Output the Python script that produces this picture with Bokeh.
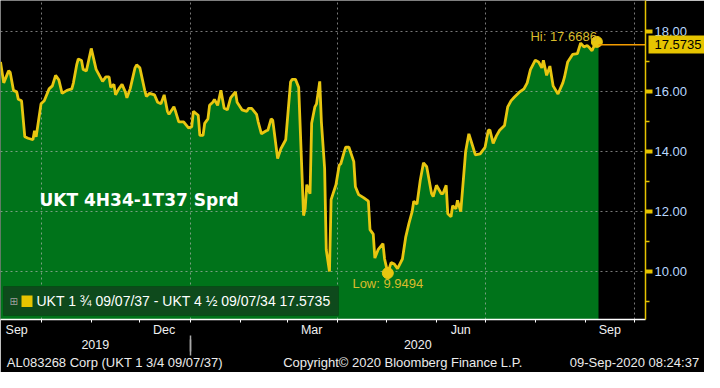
import numpy as np
import pandas as pd
from bokeh.plotting import figure
from bokeh.models import (Range1d, FixedTicker, LinearAxis, NumeralTickFormatter, Label,
                          BoxAnnotation, ColumnDataSource)
from bokeh.embed import file_html
from bokeh.resources import INLINE

# ---------------- data ----------------
dates = [
    "2019-09-06", "2019-09-08", "2019-09-11", "2019-09-12", "2019-09-14", "2019-09-16",
    "2019-09-17", "2019-09-19", "2019-09-21", "2019-09-23", "2019-09-26", "2019-09-27",
    "2019-09-28", "2019-10-01", "2019-10-03", "2019-10-06", "2019-10-08", "2019-10-10",
    "2019-10-12", "2019-10-14", "2019-10-17", "2019-10-20", "2019-10-21", "2019-10-23",
    "2019-10-24", "2019-10-26", "2019-10-27", "2019-10-29", "2019-11-01", "2019-11-04",
    "2019-11-05", "2019-11-08", "2019-11-10", "2019-11-12", "2019-11-13", "2019-11-15",
    "2019-11-16", "2019-11-18", "2019-11-20", "2019-11-22", "2019-11-23", "2019-11-25",
    "2019-11-28", "2019-11-29", "2019-12-01", "2019-12-04", "2019-12-05", "2019-12-07",
    "2019-12-10", "2019-12-12", "2019-12-14", "2019-12-16", "2019-12-18", "2019-12-19",
    "2019-12-22", "2019-12-23", "2019-12-25", "2019-12-28", "2019-12-31", "2020-01-02",
    "2020-01-03", "2020-01-06", "2020-01-07", "2020-01-09", "2020-01-10", "2020-01-12",
    "2020-01-13", "2020-01-15", "2020-01-16", "2020-01-18", "2020-01-20", "2020-01-22",
    "2020-01-24", "2020-01-26", "2020-01-29", "2020-01-30", "2020-02-02", "2020-02-05",
    "2020-02-06", "2020-02-08", "2020-02-11", "2020-02-12", "2020-02-14", "2020-02-17",
    "2020-02-18", "2020-02-20", "2020-02-21", "2020-02-24", "2020-02-26", "2020-02-29",
    "2020-03-03", "2020-03-04", "2020-03-06", "2020-03-08", "2020-03-11", "2020-03-12",
    "2020-03-13", "2020-03-15", "2020-03-16", "2020-03-18", "2020-03-19", "2020-03-21",
    "2020-03-22", "2020-03-24", "2020-03-25", "2020-03-27", "2020-03-28", "2020-03-31",
    "2020-04-02", "2020-04-03", "2020-04-05", "2020-04-06", "2020-04-08", "2020-04-11",
    "2020-04-12", "2020-04-14", "2020-04-17", "2020-04-20", "2020-04-21", "2020-04-23",
    "2020-04-24", "2020-04-26", "2020-04-29", "2020-04-30", "2020-05-02", "2020-05-04",
    "2020-05-06", "2020-05-08", "2020-05-11", "2020-05-13", "2020-05-15", "2020-05-17",
    "2020-05-18", "2020-05-20", "2020-05-22", "2020-05-24", "2020-05-26", "2020-05-29",
    "2020-05-30", "2020-06-01", "2020-06-04", "2020-06-05", "2020-06-07", "2020-06-08",
    "2020-06-10", "2020-06-11", "2020-06-13", "2020-06-14", "2020-06-16", "2020-06-19",
    "2020-06-21", "2020-06-23", "2020-06-25", "2020-06-28", "2020-07-01", "2020-07-03",
    "2020-07-04", "2020-07-06", "2020-07-08", "2020-07-10", "2020-07-13", "2020-07-15",
    "2020-07-17", "2020-07-19", "2020-07-22", "2020-07-25", "2020-07-27", "2020-07-29",
    "2020-08-01", "2020-08-03", "2020-08-05", "2020-08-06", "2020-08-08", "2020-08-10",
    "2020-08-12", "2020-08-15", "2020-08-18", "2020-08-19", "2020-08-21", "2020-08-24",
    "2020-08-27", "2020-08-29", "2020-08-31", "2020-09-02", "2020-09-03", "2020-09-05",
    "2020-09-06", "2020-09-08", "2020-09-09",
]
values = [
    17.0, 16.3, 16.7, 16.65, 16.05, 16.0,
    15.75, 15.7, 14.5, 14.45, 14.4, 14.7,
    14.5, 15.6, 15.7, 16.1, 16.2, 16.55,
    16.4, 15.95, 16.05, 16.1, 16.3, 16.9,
    17.1, 17.05, 16.75, 16.7, 17.45, 16.75,
    16.65, 16.35, 16.5, 16.5, 16.15, 16.25,
    15.9, 16.1, 16.25, 16.0, 15.8, 16.1,
    16.8, 16.9, 16.8, 16.05, 15.85, 15.95,
    15.9, 15.65, 15.6, 15.9, 15.35, 15.25,
    15.5, 15.35, 15.0, 15.0, 14.8, 14.83,
    15.35, 15.22, 14.55, 14.55, 14.95, 15.1,
    15.55, 15.65, 15.75, 15.55, 16.05, 15.45,
    15.4, 15.8, 16.0, 15.65, 15.4, 15.35,
    15.45, 15.45, 15.25, 15.0, 14.6, 14.7,
    14.72, 15.1, 15.05, 13.77, 14.1, 14.4,
    16.33, 16.42, 16.42, 16.15, 11.87, 12.1,
    12.9, 12.6, 14.95, 15.5, 15.6, 16.35,
    15.0, 13.45, 10.73, 10.0, 12.4, 12.9,
    13.55, 13.6, 13.98, 14.15, 14.15, 13.67,
    12.83, 12.57, 12.47, 12.35, 11.4, 11.25,
    10.45, 10.73, 10.93, 10.42, 9.9494, 10.3,
    10.25, 10.1, 10.42, 11.14, 11.6, 12.0,
    12.35, 12.25, 13.04, 13.63, 13.5, 12.6,
    12.5, 12.88, 12.6, 12.6, 12.88, 11.93,
    11.83, 12.2, 12.1, 12.38, 12.0, 14.0,
    14.6, 14.25, 13.9, 13.93, 14.15, 14.72,
    14.72, 14.28, 14.53, 14.72, 14.88, 15.5,
    15.7, 15.82, 15.98, 16.1, 16.3, 16.74,
    17.06, 17.0, 16.8, 17.05, 16.55, 16.86,
    16.2, 15.93, 16.3, 16.49, 17.0, 17.25,
    17.28, 17.63, 17.5, 17.55, 17.5, 17.37,
    17.5, 17.6686, 17.5735,
]

y_ticks = [10, 12, 14, 16, 18]
y_minor_ticks = [9, 11, 13, 15, 17]
month_label_dates = ["2019-09-16", "2019-12-16", "2020-03-16", "2020-06-16", "2020-09-16"]
month_labels = ["Sep", "Dec", "Mar", "Jun", "Sep"]
month_starts = ["2019-10-01", "2019-11-01", "2019-12-01", "2020-01-01", "2020-02-01",
                "2020-03-01", "2020-04-01", "2020-05-01", "2020-06-01", "2020-07-01",
                "2020-08-01", "2020-09-01", "2020-10-01"]
grid_dates = ["2019-10-01", "2020-01-01", "2020-04-01", "2020-07-01", "2020-10-01"]
year_labels = ["2019", "2020"]
year_break = "2020-01-01"
x_start, x_end = "2019-09-06", "2020-10-08"
y_start, y_end = 8.40, 19.05

title_text = "UKT 4H34-1T37 Sprd"
legend_text = "UKT 1 \u00be  09/07/37 - UKT 4 \u00bd  09/07/34"
footer_texts = ["AL083268 Corp (UKT 1 3/4 09/07/37)",
                "Copyright\u00a9 2020 Bloomberg Finance L.P.",
                "09-Sep-2020 08:24:37"]

# ---------------- styling ----------------
GREEN = "#00731a"
YELLOW = "#e8c610"
AXIS_YELLOW = "#e6c400"
FONT = "Liberation Sans"
FRAME_W = 643                        # expected plot frame width in px
FOOTER_CENTERS_PX = [114, 401, 632]  # horizontal centres of the footer texts
RA_W = 42                            # expected width of the main right axis
SEP_LEN = 16                         # year separator length
SEP_COLOR = "#a8a8a8"


def ms(s):
    return int(pd.Timestamp(s).value // 10**6)


x_ms = [ms(d) for d in dates]
x0, x1, xb = ms(x_start), ms(x_end), ms(year_break)

W, H = 704, 372
p = figure(width=W, height=H, y_axis_location="right",
           x_range=Range1d(x0, x1), y_range=Range1d(y_start, y_end),
           output_backend="svg", toolbar_location=None,
           min_border_left=0, min_border_top=0, min_border_right=0, min_border_bottom=0,
           background_fill_color="black", border_fill_color="black", outline_line_color=None)

src = ColumnDataSource(dict(x=x_ms, y=values, base=[y_start] * len(values)))
p.varea(x="x", y1="base", y2="y", source=src, fill_color=GREEN, fill_alpha=1, level="image")
p.line("x", "y", source=src, line_color=YELLOW, line_width=2.8)

i_hi = int(np.argmax(values))
i_lo = int(np.argmin(values))
p.scatter(x=[x_ms[i_hi], x_ms[i_lo]], y=[values[i_hi], values[i_lo]], size=11,
          fill_color=YELLOW, line_color=YELLOW)

# last value line to axis
p.segment(x0=[x_ms[-1]], y0=[values[-1]], x1=[x1], y1=[values[-1]],
          line_color="#f39c00", line_width=1.5)

# grids
for g in (p.xgrid[0], p.ygrid[0]):
    g.grid_line_color = "#b8b8b8"
    g.grid_line_alpha = 0.65
    g.grid_line_dash = "2 3"
    g.grid_line_width = 1
p.xgrid[0].ticker = FixedTicker(ticks=[ms(d) for d in grid_dates])


def style_bottom(ax, size, color="#f0f0f0"):
    ax.major_label_text_color = color
    ax.major_label_text_font = FONT
    ax.major_label_text_font_size = size


# x axis (months)
xa = p.xaxis[0]
m_ticks = [ms(d) for d in month_label_dates]
xa.ticker = FixedTicker(ticks=m_ticks, minor_ticks=[ms(d) for d in month_starts])
xa.major_label_overrides = {t: s for t, s in zip(m_ticks, month_labels)}
xa.axis_line_color = "white"
xa.axis_line_width = 1.5
xa.major_tick_out = 0
xa.major_tick_in = 0
xa.major_tick_line_color = None
xa.minor_tick_line_color = "white"
xa.minor_tick_line_width = 1
xa.minor_tick_out = 3
xa.minor_tick_in = 0
xa.major_label_standoff = 0
style_bottom(xa, "12.5px")

# year axis (its minor tick hanging down is the year separator)
y_lab_ticks = [(x0 + xb) // 2, (xb + x1) // 2]
ya = LinearAxis(ticker=FixedTicker(ticks=y_lab_ticks, minor_ticks=[xb]),
                major_label_overrides={t: s for t, s in zip(y_lab_ticks, year_labels)})
ya.axis_line_color = None
ya.major_tick_out = 0
ya.major_tick_in = 0
ya.major_tick_line_color = None
ya.minor_tick_line_color = SEP_COLOR
ya.minor_tick_line_width = 1.5
ya.minor_tick_out = SEP_LEN
ya.minor_tick_in = 0
ya.major_label_standoff = -SEP_LEN
style_bottom(ya, "12.5px")
p.add_layout(ya, "below")

# footer line (an axis whose three tick labels are the footer texts;
# its minor tick reaching up traces the same year separator)
footer_ticks = [int(round(x0 + c / FRAME_W * (x1 - x0))) for c in FOOTER_CENTERS_PX]
fa = LinearAxis(ticker=FixedTicker(ticks=footer_ticks, minor_ticks=[xb]),
                major_label_overrides={t: s for t, s in zip(footer_ticks, footer_texts)})
fa.axis_line_color = None
fa.major_tick_out = 0
fa.major_tick_in = 0
fa.major_tick_line_color = None
fa.minor_tick_line_color = SEP_COLOR
fa.minor_tick_line_width = 1.5
fa.minor_tick_out = 0
fa.minor_tick_in = SEP_LEN
fa.major_label_standoff = 3
style_bottom(fa, "13px", "#ececec")
p.add_layout(fa, "below")

# right axis
ra = p.yaxis[0]
ra.ticker = FixedTicker(ticks=y_ticks, minor_ticks=y_minor_ticks)
ra.formatter = NumeralTickFormatter(format="0.00")
ra.axis_line_color = AXIS_YELLOW
ra.axis_line_width = 1.5
ra.major_tick_line_color = AXIS_YELLOW
ra.major_tick_line_width = 4
ra.major_tick_out = 7
ra.major_tick_in = 0
ra.minor_tick_line_color = AXIS_YELLOW
ra.minor_tick_line_width = 1.5
ra.minor_tick_out = 4
ra.minor_tick_in = 0
ra.major_label_text_color = "#b8d8ff"
ra.major_label_text_font = FONT
ra.major_label_text_font_size = "13px"
ra.major_label_standoff = 2

# last-value tag on the axis (second right axis: a wide minor tick as the box)
TAG_OUT = 14
ta = LinearAxis(ticker=FixedTicker(ticks=[values[-1]], minor_ticks=[values[-1]]),
                formatter=NumeralTickFormatter(format="0.0000"))
ta.axis_line_color = None
ta.major_tick_line_color = None
ta.major_tick_out = 0
ta.major_tick_in = 0
ta.minor_tick_line_color = AXIS_YELLOW
ta.minor_tick_line_width = 18
ta.minor_tick_in = RA_W
ta.minor_tick_out = TAG_OUT
ta.major_label_text_color = "black"
ta.major_label_text_font = FONT
ta.major_label_text_font_size = "13px"
ta.major_label_standoff = 6 - TAG_OUT - RA_W
p.add_layout(ta, "right")

# hi / low labels
p.add_layout(Label(x=x_ms[i_hi], y=values[i_hi], text=f"Hi: {values[i_hi]:.4f}",
                   text_align="right", text_baseline="alphabetic", y_offset=5,
                   text_color="#d9bc2c", text_font=FONT, text_font_size="13px"))
p.add_layout(Label(x=x_ms[i_lo], y=values[i_lo], text=f"Low: {values[i_lo]:.4f}",
                   text_align="center", text_baseline="top", y_offset=-3,
                   text_color="#d9bc2c", text_font=FONT, text_font_size="13px"))

# series title
p.add_layout(Label(x=39, y=120, x_units="screen", y_units="screen", text=title_text,
                   text_font="DejaVu Sans", text_font_style="bold", text_font_size="17px",
                   text_color="white", text_baseline="middle"))

# legend box
scr = dict(left_units="screen", right_units="screen", top_units="screen", bottom_units="screen")
p.add_layout(BoxAnnotation(left=3, right=338, bottom=4, top=33, fill_color="#0e4a1c",
                           fill_alpha=1, line_color="#052a0a", line_width=1, **scr))
p.add_layout(BoxAnnotation(left=21, right=32, bottom=12.5, top=24, fill_color="#e6c400",
                           fill_alpha=1, line_color=None, **scr))
p.add_layout(Label(x=9, y=18.5, x_units="screen", y_units="screen", text="\u229e",
                   text_font="DejaVu Sans", text_font_size="10px", text_color="#a0a0a0",
                   text_baseline="middle"))
p.add_layout(Label(x=36, y=18.5, x_units="screen", y_units="screen",
                   text=f"{legend_text} {values[-1]:.4f}", text_font=FONT,
                   text_font_size="14px", text_color="white", text_baseline="middle"))

open("out.html", "w").write(file_html(p, INLINE))
